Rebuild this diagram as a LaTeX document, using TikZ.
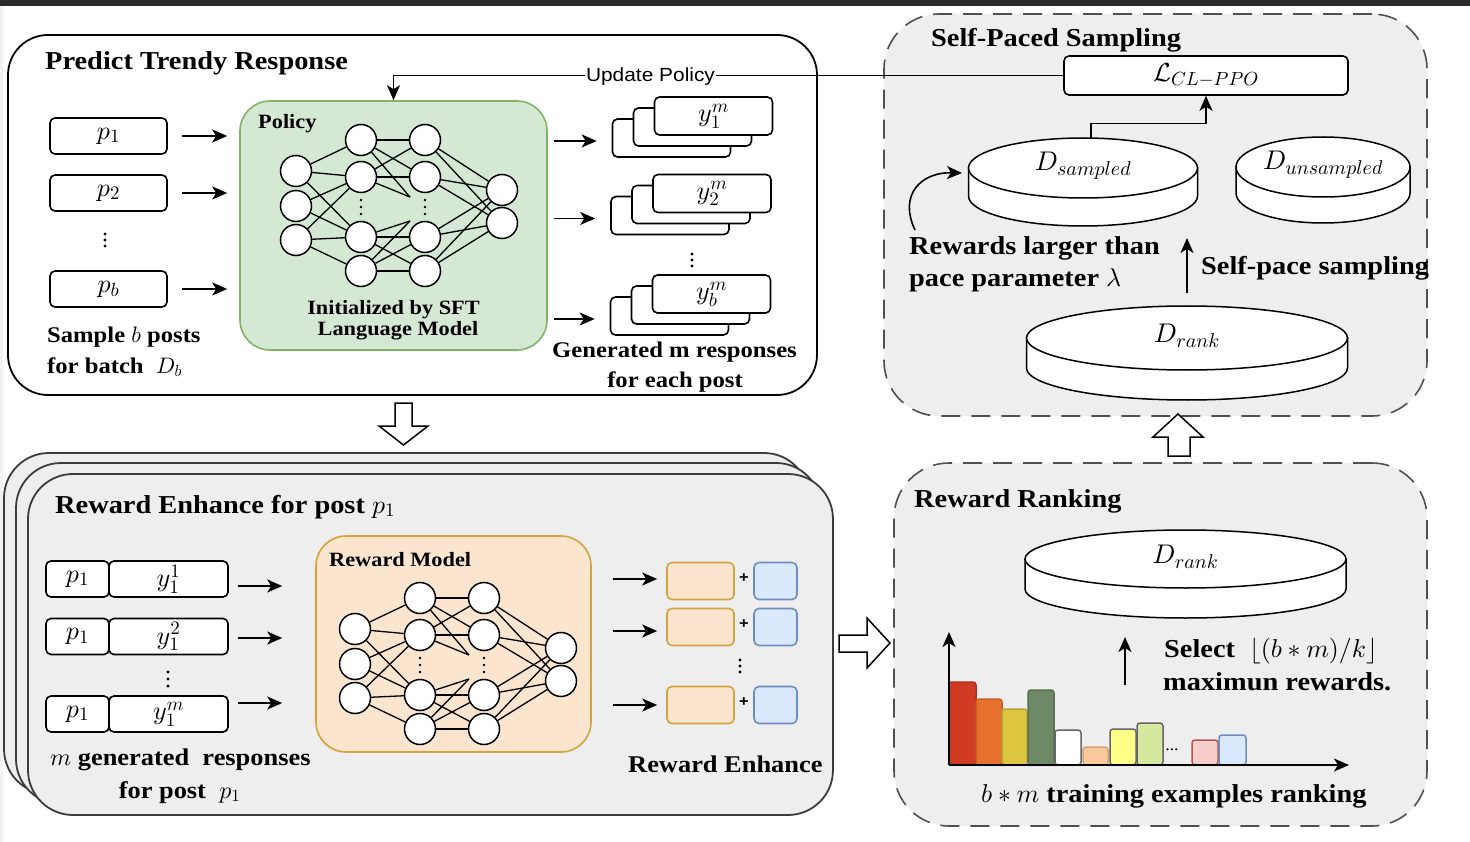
\documentclass[tikz,border=0pt]{standalone}
\usepackage{fontspec}
\setmainfont{Liberation Serif}[FakeStretch=1.1]
\newfontfamily\sansw{Liberation Sans}[FakeStretch=1.1]
\DeclareFontShape{OML}{cmm}{m}{it}{<->cmmi10}{}
\DeclareFontShape{OMS}{cmsy}{m}{n}{<->cmsy10}{}
\DeclareFontShape{OT1}{cmr}{m}{n}{<->cmr10}{}
\DeclareFontShape{OT1}{cmr}{bx}{n}{<->cmbx10}{}
\DeclareMathSizes{22.4}{22.4}{16}{12}
\DeclareMathSizes{24}{24}{17}{12}
\DeclareMathSizes{25}{25}{18}{13}
\DeclareMathSizes{25.8}{25.8}{19}{14}
\DeclareMathSizes{26}{26}{19}{14}
\DeclareMathSizes{27}{27}{20}{15}
\usetikzlibrary{arrows.meta,calc}
\definecolor{pgreen}{HTML}{D5E8D4}
\definecolor{pgreenE}{HTML}{82B366}
\definecolor{rorange}{HTML}{FBE5CF}
\definecolor{rorangeE}{HTML}{D6A23C}
\definecolor{bblue}{HTML}{DAE8FC}
\definecolor{bblueE}{HTML}{6C8EBF}
\definecolor{pgray}{HTML}{EEEEEE}
\definecolor{pedge}{HTML}{3C3C3C}
\definecolor{dedge}{HTML}{505050}
\definecolor{topbar}{HTML}{2B2B2B}
\definecolor{cA}{HTML}{D13B22}\definecolor{eA}{HTML}{B0301C}
\definecolor{cB}{HTML}{E8702E}\definecolor{eB}{HTML}{C45E24}
\definecolor{cC}{HTML}{DCC640}\definecolor{eC}{HTML}{B7A436}
\definecolor{cD}{HTML}{6E8966}\definecolor{eD}{HTML}{56704F}
\definecolor{cF}{HTML}{F9C99B}\definecolor{eF}{HTML}{D9A478}
\definecolor{cG}{HTML}{FFFF88}\definecolor{cH}{HTML}{D5E8A0}
\definecolor{cI}{HTML}{F8CECC}\definecolor{eI}{HTML}{B85450}
\definecolor{eG}{HTML}{666666}

\tikzset{
 arr/.style={-{Stealth[length=15pt,width=13pt,inset=4pt]}, line width=1.6pt},
 neuron/.style={circle, draw, fill=white, minimum size=31pt, inner sep=0pt, line width=1.5pt},
 nnline/.style={line width=1.3pt},
 bx/.style={draw, fill=white, rounded corners=5pt, line width=1.6pt, inner sep=0pt, font=\fontsize{26}{28}\selectfont},
 titletext/.style={anchor=base west, inner sep=0pt, font=\fontsize{25.8}{30}\selectfont\bfseries},
 bigtext/.style={inner sep=0pt, font=\fontsize{25.8}{30}\selectfont\bfseries},
 midtext/.style={inner sep=0pt, font=\fontsize{22.4}{28}\selectfont\bfseries},
 smalltext/.style={inner sep=0pt, font=\fontsize{20.3}{22}\selectfont\bfseries},
 dlabel/.style={inner sep=0pt, font=\fontsize{27}{30}\selectfont},
 hollow/.style={draw, fill=white, line width=1.5pt, line join=miter},
 dpanel/.style={draw=dedge, fill=pgray, line width=1.6pt, dash pattern=on 19pt off 11pt, rounded corners=55pt, inner sep=0pt},
 spanel/.style={draw=pedge, fill=pgray, line width=1.8pt, rounded corners=45pt, inner sep=0pt, minimum width=805pt, minimum height=341pt},
}

\newcommand\nnet[1]{%
 \foreach \i/\yy in {1/171,2/206,3/240} {\node[neuron] (#1a\i) at (296,\yy) {};}
 \foreach \i/\yy in {1/140,2/177,3/237,4/271} {\node[neuron] (#1b\i) at (361,\yy) {}; \node[neuron] (#1c\i) at (425,\yy) {};}
 \foreach \i/\yy in {1/190,2/223} {\node[neuron] (#1d\i) at (502,\yy) {};}
 \coordinate (#1u) at (410,197);
 \coordinate (#1l) at (410,221);
 \foreach \sa/\sb in {a1/b1,a1/b2,a1/b3,a2/b2,a2/b3,a3/b2,a3/b3,a3/b4,b1/c1,b2/c2,b3/c3,b4/c4,b1/c2,b2/c1,b3/c4,b4/c3,c1/d1,c1/d2,c2/d1,c2/d2,c3/d1,c3/d2,c4/d1,c4/d2} {\draw[nnline] (#1\sa) -- (#1\sb);}
 \foreach \sa in {b1,b2} {\draw[nnline] (#1\sa) -- (#1u);}
 \foreach \sa in {b3,b4} {\draw[nnline] (#1\sa) -- (#1l);}
 \foreach \xx in {361,425} {\foreach \yy in {200,207,214} {\fill (\xx,\yy) circle (1.3);}}
}

\newcommand\respstack[4]{%
 \node[bx, minimum width=118pt, minimum height=38pt] (#1c) at (#2-42,#3+22) {};
 \node[bx, minimum width=118pt, minimum height=38pt] (#1b) at (#2-21,#3+11) {};
 \node[bx, minimum width=118pt, minimum height=38pt] (#1a) at (#2,#3) {#4};
}

% name, cx, cy(top ellipse centre), rx, ry, h, label
\newcommand\dbcyl[7]{%
 \draw[fill=white, line width=1.5pt] (#2-#4,#3) -- (#2-#4,#3+#6) arc[start angle=180, end angle=0, x radius=#4, y radius=#5] -- (#2+#4,#3) -- cycle;
 \draw[fill=white, line width=1.5pt] (#2,#3) ellipse [x radius=#4, y radius=#5];
 \node[dlabel] (#1) at (#2,#3-2) {#7};
}

\begin{document}
\begin{tikzpicture}[x=1pt,y=-1pt]
\useasboundingbox (0,0) rectangle (1470,842);
\fill[white] (0,0) rectangle (1470,842);
\fill[topbar] (0,0) rectangle (1470,6);
\fill[black!5] (0,6) rectangle (3,842);

% ---------- panels ----------
\node[draw, fill=white, line width=1.8pt, rounded corners=40pt, minimum width=809pt, minimum height=360pt, inner sep=0pt] (predict) at (412.5,215) {};
\node[dpanel, minimum width=543pt, minimum height=402pt] (sps) at (1155.5,215) {};
\node[dpanel, minimum width=533pt, minimum height=363pt] (rrk) at (1160.5,644.5) {};
\node[spanel] (re1) at (406.5,623.5) {};
\node[spanel] (re2) at (418.5,633.5) {};
\node[spanel] (re3) at (430.5,644.5) {};

% ---------- Predict Trendy Response ----------
\node[titletext] (t1) at (45,70) {Predict Trendy Response};
\node[bx, minimum width=117pt, minimum height=36pt] (p1) at (108.5,136) {$p_1$};
\node[bx, minimum width=117pt, minimum height=36pt] (p2) at (108.5,193) {$p_2$};
\node[bx, minimum width=117pt, minimum height=36pt] (pb) at (108.5,289) {$p_b$};
\foreach \yy in {234,240,246} {\fill (105,\yy) circle (1.7);}
\node[draw=pgreenE, fill=pgreen, line width=1.6pt, rounded corners=30pt, minimum width=307pt, minimum height=249pt, inner sep=0pt] (policy) at (393.5,225.5) {};
\foreach \n in {p1,p2,pb} {\draw[arr, shorten <=14pt, shorten >=12pt] (\n.east) -- (\n.east -| policy.west);}
\node[smalltext, anchor=base west] (poltxt) at (258,129) {Policy};
\nnet{q}
\node[smalltext, anchor=base] (init1) at (393.5,315) {Initialized by SFT};
\node[smalltext, anchor=base] (init2) at (398,335) {Language Model};
\node[midtext, anchor=base west] (samp1) at (47,343) {Sample $b$ posts};
\node[midtext, anchor=base west] (samp2) at (47,373) {for batch\ \ $D_b$};

\respstack{sa}{713.5}{116}{$y_1^m$}
\respstack{sb}{712}{193.5}{$y_2^m$}
\respstack{sc}{711.5}{294}{$y_b^m$}
\foreach \n in {sa,sb,sc} {\draw[arr, shorten <=6pt, shorten >=15pt] ([yshift=-3pt]policy.east |- \n c.west) -- ([yshift=-3pt]\n c.west);}
\foreach \yy in {254,260,266} {\fill (692,\yy) circle (1.7);}
\node[midtext, anchor=base] (gen1) at (674.5,357) {Generated m responses};
\node[midtext, anchor=base] (gen2) at (675,387) {for each post};

% ---------- Self-Paced Sampling ----------
\node[titletext] (t4) at (931,47) {Self-Paced Sampling};
\node[bx, minimum width=284pt, minimum height=39pt] (L) at (1206,75.5) {$\mathcal{L}_{CL-PPO}$};
\dbcyl{ds}{1083}{168}{114.5}{30}{28}{$D_{sampled}$}
\dbcyl{du}{1323}{167}{87}{30}{26}{$D_{unsampled}$}
\dbcyl{dr}{1187}{338}{160.5}{32}{30}{$D_{rank}$}
\coordinate (dstop) at (1091,138.5);
\draw[arr] (dstop) -- ++(0,-15) -| (L.south);
\draw[line width=1.8pt] (L.west) -| (policy.north);
\draw[arr] (L.west -| policy.north) -- (policy.north);
\node[fill=white, inner sep=1pt, font=\sansw\fontsize{19}{22}\selectfont] (upd) at (650.5,77) {Update Policy};
\coordinate (cvs) at (915,230);
\coordinate (cve) at (962,173);
\draw[arr] (cvs) .. controls (898,194) and (922,172) .. (cve);
\node[bigtext, anchor=base west] (rl1) at (909,255) {Rewards larger than};
\node[bigtext, anchor=base west] (rl2) at (909,287) {pace parameter $\lambda$};
\coordinate (spa) at (1187,293);
\coordinate (spb) at (1187,238);
\draw[arr] (spa) -- (spb);
\node[bigtext, anchor=base west] (sps1) at (1201,275) {Self-pace sampling};

% ---------- Reward Enhance ----------
\node[titletext] (t2) at (55,513) {Reward Enhance for post $p_1$};
\foreach \i/\yy/\sup in {1/579/1,2/636.5/2,3/714/m} {
 \node[bx, minimum width=63pt, minimum height=36pt] (rp\i) at (77.5,\yy) {$p_1$};
 \node[bx, minimum width=119pt, minimum height=36pt] (ry\i) at (168.5,\yy) {$y_1^{\sup}$};
}
\foreach \yy in {672,679,686} {\fill (168,\yy) circle (1.7);}
\node[draw=rorangeE, fill=rorange, line width=1.6pt, rounded corners=30pt, minimum width=275pt, minimum height=216pt, inner sep=0pt] (rm) at (453.5,644) {};
\draw[arr, shorten <=9pt, shorten >=33pt] ([yshift=-7pt]ry1.east) -- ([yshift=-7pt]ry1.east -| rm.west);
\draw[arr, shorten <=9pt, shorten >=33pt] ([yshift=-1.5pt]ry2.east) -- ([yshift=-1.5pt]ry2.east -| rm.west);
\draw[arr, shorten <=9pt, shorten >=33pt] ([yshift=11pt]ry3.east) -- ([yshift=11pt]ry3.east -| rm.west);
\node[smalltext, anchor=base west] (rmtxt) at (329,566) {Reward Model};
\begin{scope}[shift={(59,458)}]
\nnet{r}
\end{scope}
\node[midtext, font=\fontsize{24}{28}\selectfont\bfseries, anchor=base west] (mg1) at (50,765) {$m$ generated\ \ responses};
\node[midtext, font=\fontsize{24}{28}\selectfont\bfseries, anchor=base west] (mg2) at (118.6,798) {for post\ \ $p_1$};

\foreach \i/\yy in {1/581,2/627,3/705} {
 \node[bx, draw=rorangeE, fill=rorange, minimum width=67pt, minimum height=37pt] (ob\i) at (700.5,\yy) {};
 \node[bx, draw=bblueE, fill=bblue, minimum width=43pt, minimum height=37pt] (bb\i) at (775.5,\yy) {};
 \node[inner sep=0pt, font=\sansw\bfseries\fontsize{15}{16}\selectfont] (plus\i) at ($(ob\i.east)!0.5!(bb\i.west)+(0,-3)$) {+};
}
\draw[arr, shorten <=21pt, shorten >=9pt] ([yshift=2pt]ob1.west -| rm.east) -- ([yshift=2pt]ob1.west);
\draw[arr, shorten <=21pt, shorten >=9pt] ([yshift=-4pt]ob2.west -| rm.east) -- ([yshift=-4pt]ob2.west);
\draw[arr, shorten <=21pt, shorten >=9pt] (ob3.west -| rm.east) -- (ob3.west);
\foreach \yy in {660,666,672} {\fill (740,\yy) circle (1.7);}
\node[bigtext, font=\fontsize{24}{28}\selectfont\bfseries, anchor=base west] (retxt) at (628,772) {Reward Enhance};

% ---------- Reward Ranking ----------
\node[titletext] (t3) at (914,507) {Reward Ranking};
\dbcyl{dr2}{1185.5}{559}{160.5}{29}{30}{$D_{rank}$}
\coordinate (sel1) at (1125,685);
\coordinate (sel2) at (1125,637);
\draw[arr] (sel1) -- (sel2);
\node[bigtext, anchor=base west] (selt) at (1164,657) {Select\ \ $\lfloor (b*m)/k\rfloor$};
\node[bigtext, anchor=base west] (selt2) at (1163,690) {maximun rewards.};
\foreach \xa/\xb/\yt/\fc/\dc in {949/976/682/cA/eA, 976/1002/699/cB/eB, 1002/1027/709/cC/eC, 1028/1054/690/cD/eD, 1055/1081/730/white/eG, 1083/1108/747/cF/eF, 1110/1136/729/cG/eG, 1137/1163/723/cH/eG, 1192/1218/740/cI/eI, 1219/1246/735/bblue/bblueE} {
 \draw[fill=\fc, draw=\dc, line width=1.5pt, rounded corners=3pt] (\xa,765) rectangle (\xb,\yt);
}
\node[inner sep=0pt, font=\fontsize{16}{18}\selectfont] (ell) at (1172,750) {...};
\coordinate (orig) at (949,765);
\coordinate (yax) at (949,632);
\coordinate (xax) at (1349,765);
\draw[arr] (orig) -- (yax);
\draw[arr] (orig) -- (xax);
\node[bigtext, anchor=base west] (bm) at (981,802) {$b*m$ training examples ranking};

% ---------- hollow arrows ----------
\draw[hollow] (395,403) -- (412,403) -- (412,426) -- (428,426) -- (403.5,445) -- (379,426) -- (395,426) -- cycle;
\draw[hollow] (839,635) -- (867,635) -- (867,618) -- (890,643) -- (867,668) -- (867,652) -- (839,652) -- cycle;
\draw[hollow] (1168,456) -- (1168,437) -- (1153,437) -- (1178,414) -- (1203,437) -- (1190,437) -- (1190,456) -- cycle;
\end{tikzpicture}
\end{document}
